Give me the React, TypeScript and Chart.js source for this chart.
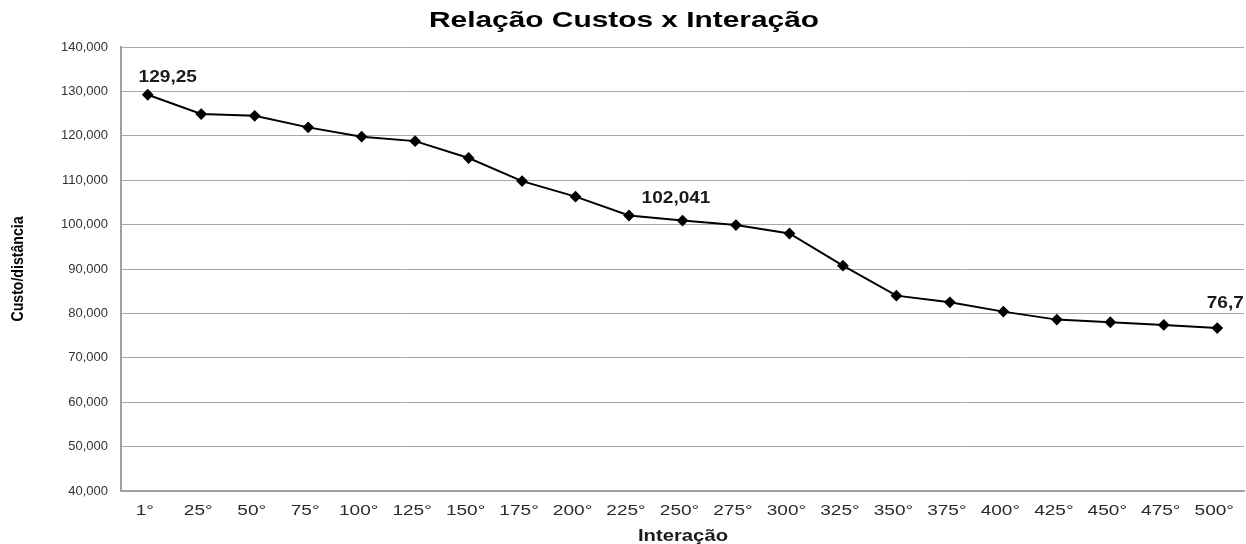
import React, { useEffect, useRef } from "react";
import { Chart, registerables } from "chart.js";

Chart.register(...registerables);

const categories = ["1°", "25°", "50°", "75°", "100°", "125°", "150°", "175°", "200°", "225°", "250°", "275°", "300°", "325°", "350°", "375°", "400°", "425°", "450°", "475°", "500°"];
const custos = [129250, 124900, 124500, 121900, 119800, 118800, 115000, 109800, 106300, 102041, 100900, 99900, 98000, 90750, 84000, 82500, 80400, 78600, 78000, 77400, 76700];
const labelTexts = ["129,25", "102,041", "76,7"];
const labelIndices = [0, 9, 20];
const yTicksMin = 40000;
const yTicksMax = 140000;
const yStep = 10000;
const titleText = "Relação Custos x Interação";
const xTitleText = "Interação";
const yTitleText = "Custo/distância";

const FONT = "'Liberation Sans', Arial, sans-serif";

function drawStretched(ctx: CanvasRenderingContext2D, text: string, x: number, y: number, font: string, targetWidth: number | null, sx: number, color: string) {
  ctx.save();
  ctx.font = font;
  ctx.fillStyle = color;
  ctx.textAlign = "center";
  ctx.textBaseline = "middle";
  const w = ctx.measureText(text).width;
  const s = targetWidth ? targetWidth / w : sx;
  ctx.translate(x, y);
  ctx.scale(s, 1);
  ctx.fillText(text, 0, 0);
  ctx.restore();
}

const textPlugin = {
  id: "texts",
  afterDraw(chart: any) {
    const ctx: CanvasRenderingContext2D = chart.ctx;
    const area = chart.chartArea;
    const xs = chart.scales.x;
    // title
    drawStretched(ctx, titleText, 624, 21, `bold 22px ${FONT}`, 390, 1, "#000");
    // x tick labels
    categories.forEach((c, i) => {
      const px = xs.getPixelForTick(i);
      drawStretched(ctx, c, px - 3, area.bottom + 20, `15px ${FONT}`, null, 1.27, "#2a2a2a");
    });
    // x title
    drawStretched(ctx, xTitleText, 683, 537, `bold 16px ${FONT}`, 90, 1, "#1a1a1a");
    // y title
    ctx.save();
    ctx.translate(19, 269);
    ctx.rotate(-Math.PI / 2);
    drawStretched(ctx, yTitleText, 0, 0, `bold 16px ${FONT}`, 105, 1, "#000");
    ctx.restore();
    // data labels
    const meta = chart.getDatasetMeta(0);
    const offsets = [[20, -17], [47, -17.5], [8, -24.5]];
    labelIndices.forEach((idx, i) => {
      const pt = meta.data[idx];
      drawStretched(ctx, labelTexts[i], pt.x + offsets[i][0], pt.y + offsets[i][1], `bold 17px ${FONT}`, null, 1.12, "#1a1a1a");
    });
  },
};

export default function App() {
  const ref = useRef<HTMLCanvasElement>(null);
  useEffect(() => {
    const chart = new Chart(ref.current!, {
      type: "line",
      data: {
        labels: categories,
        datasets: [
          {
            data: custos,
            borderColor: "#000",
            backgroundColor: "#000",
            borderWidth: 2,
            pointStyle: "rectRot",
            pointRadius: 4.5,
            pointBackgroundColor: "#000",
            pointBorderColor: "#000",
            tension: 0,
          },
        ],
      },
      options: {
        animation: false,
        responsive: false,
        maintainAspectRatio: false,
        layout: { autoPadding: false, padding: { left: 0, right: 2, top: 47, bottom: 0 } },
        plugins: {
          legend: { display: false },
          tooltip: { enabled: false },
          title: { display: false },
        },
        scales: {
          x: {
            offset: true,
            grid: { display: false, drawTicks: false },
            border: { display: true, color: "#a0a0a0", width: 2 },
            ticks: { display: false },
            afterFit(scale: any) {
              scale.height = 53;
            },
          },
          y: {
            min: yTicksMin,
            max: yTicksMax,
            grid: { color: "#a8a8a8", lineWidth: 1, drawTicks: false },
            border: { display: true, color: "#a0a0a0", width: 2 },
            ticks: {
              stepSize: yStep,
              color: "#333",
              font: { family: FONT, size: 13 },
              padding: 13,
              callback: (v: any) => Number(v).toLocaleString("en-US"),
            },
            afterFit(scale: any) {
              scale.width = 121;
            },
          },
        },
      },
      plugins: [textPlugin],
    });
    return () => chart.destroy();
  }, []);
  return (
    <div style={{ position: "fixed", left: 0, top: 0, width: 1246, height: 544, background: "#fff" }}>
      <canvas ref={ref} width={1246} height={544} style={{ width: 1246, height: 544 }} />
    </div>
  );
}
